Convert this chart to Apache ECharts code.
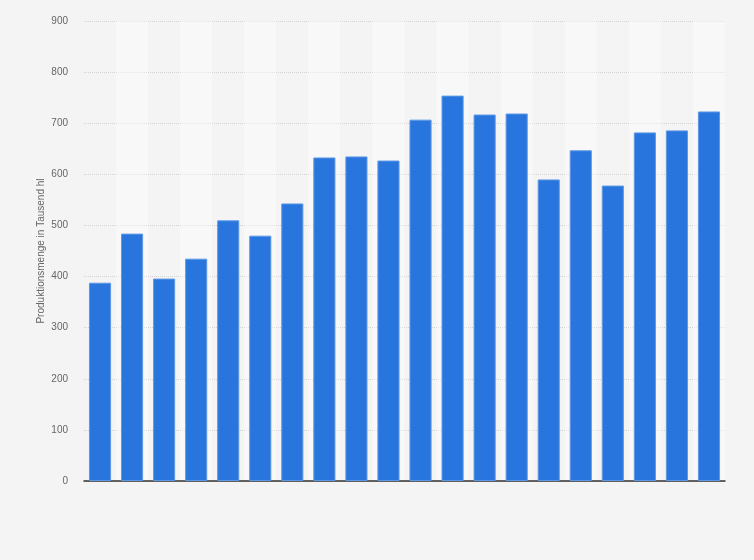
<!DOCTYPE html>
<html>
<head>
<meta charset="utf-8">
<script src="https://cdn.jsdelivr.net/npm/echarts@6/dist/echarts.min.js"></script>
<style>
  html, body { margin: 0; padding: 0; background: #f4f4f4; }
  #diagram { width: 754px; height: 560px; }
</style>
</head>
<body>
<div id="diagram"></div>
<script>
var categories = ["1", "2", "3", "4", "5", "6", "7", "8", "9", "10",
  "11", "12", "13", "14", "15", "16", "17", "18", "19", "20"];
var production = [388, 484, 396, 435, 510, 480, 543, 633, 635, 627,
  707, 754, 717, 719, 590, 647, 578, 682, 686, 723];
var yTicks = [0, 900, 100];

var myChart = echarts.init(document.getElementById("diagram"));
var option = {
  backgroundColor: "#f4f4f4",
  animation: false,
  grid: { left: 84, right: 29, top: 21, bottom: 79 },
  xAxis: {
    type: "category",
    data: categories,
    axisTick: { show: false },
    axisLabel: { show: false },
    axisLine: { lineStyle: { color: "#333", width: 1.5 } },
    splitArea: {
      show: true,
      areaStyle: { color: ["rgba(0,0,0,0)", "rgba(255,255,255,0.4)"] }
    }
  },
  yAxis: {
    type: "value",
    min: yTicks[0],
    max: yTicks[1],
    interval: yTicks[2],
    name: "Produktionsmenge in Tausend hl",
    nameLocation: "middle",
    nameGap: 38,
    nameMoveOverlap: false,
    nameTextStyle: { color: "#666", fontSize: 10, fontFamily: "Arial, Liberation Sans, sans-serif" },
    axisLine: { show: false },
    axisTick: { show: false },
    axisLabel: { color: "#666", fontSize: 10, margin: 16, fontFamily: "Arial, Liberation Sans, sans-serif" },
    splitLine: { lineStyle: { color: "#d4d4d4", type: [1, 1] } }
  },
  series: [
    {
      type: "bar",
      data: production,
      barWidth: "69%",
      itemStyle: { color: "#2876dd", borderColor: "#5d98e6", borderWidth: 1 }
    }
  ]
};
myChart.setOption(option);
</script>
</body>
</html>
